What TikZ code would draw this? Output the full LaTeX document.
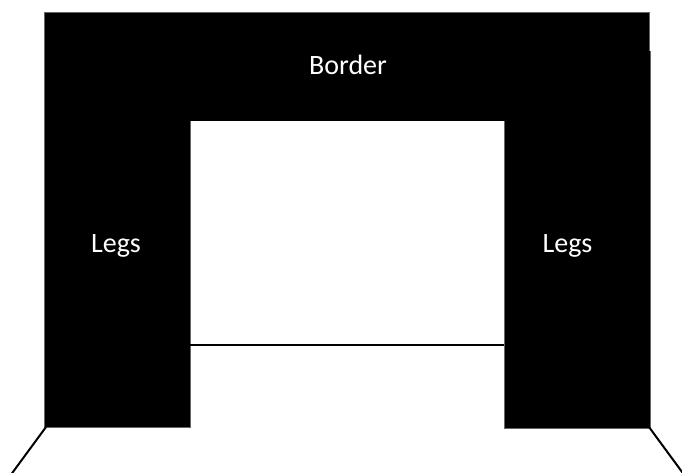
\documentclass[tikz,border=0pt]{standalone}
\usepackage{fontspec}
\setmainfont{Carlito}
\begin{document}
\begin{tikzpicture}[x=1pt,y=-1pt,
  blk/.style={fill=black,draw=black!60,line width=0.6pt},
  lbl/.style={text=white,inner sep=0pt,anchor=base,font=\fontsize{28}{34}\selectfont},
  ln/.style={draw=black,line width=2pt}]
\useasboundingbox (0,0) rectangle (682,472);
\begin{scope}
\clip (0,0) rectangle (682,472);
% border and legs
\path[blk] (44,12) rectangle (649,120);
\path[blk] (44,120) rectangle (190,427);
\path[blk] (504,51) rectangle (650,428);
\fill[black] (44.5,12.5) rectangle (648.5,120.5);
\fill[black] (504.5,51) rectangle (649.5,427.5);
\fill[black] (44.5,100) rectangle (189.5,426.5);
% lines
\coordinate (hl) at (190,345);
\coordinate (hr) at (504,345);
\draw[ln] (hl) -- (hr);
\coordinate (dl1) at (46,427);
\coordinate (dl2) at (10,476);
\coordinate (dr1) at (649,427);
\coordinate (dr2) at (685,476);
\draw[ln] (dl1) -- (dl2);
\draw[ln] (dr1) -- (dr2);
\end{scope}
\node[lbl] (border) at (348,74) {Border};
\node[lbl] (legl) at (116,252) {Legs};
\node[lbl] (legr) at (567.5,252) {Legs};
\end{tikzpicture}
\end{document}
